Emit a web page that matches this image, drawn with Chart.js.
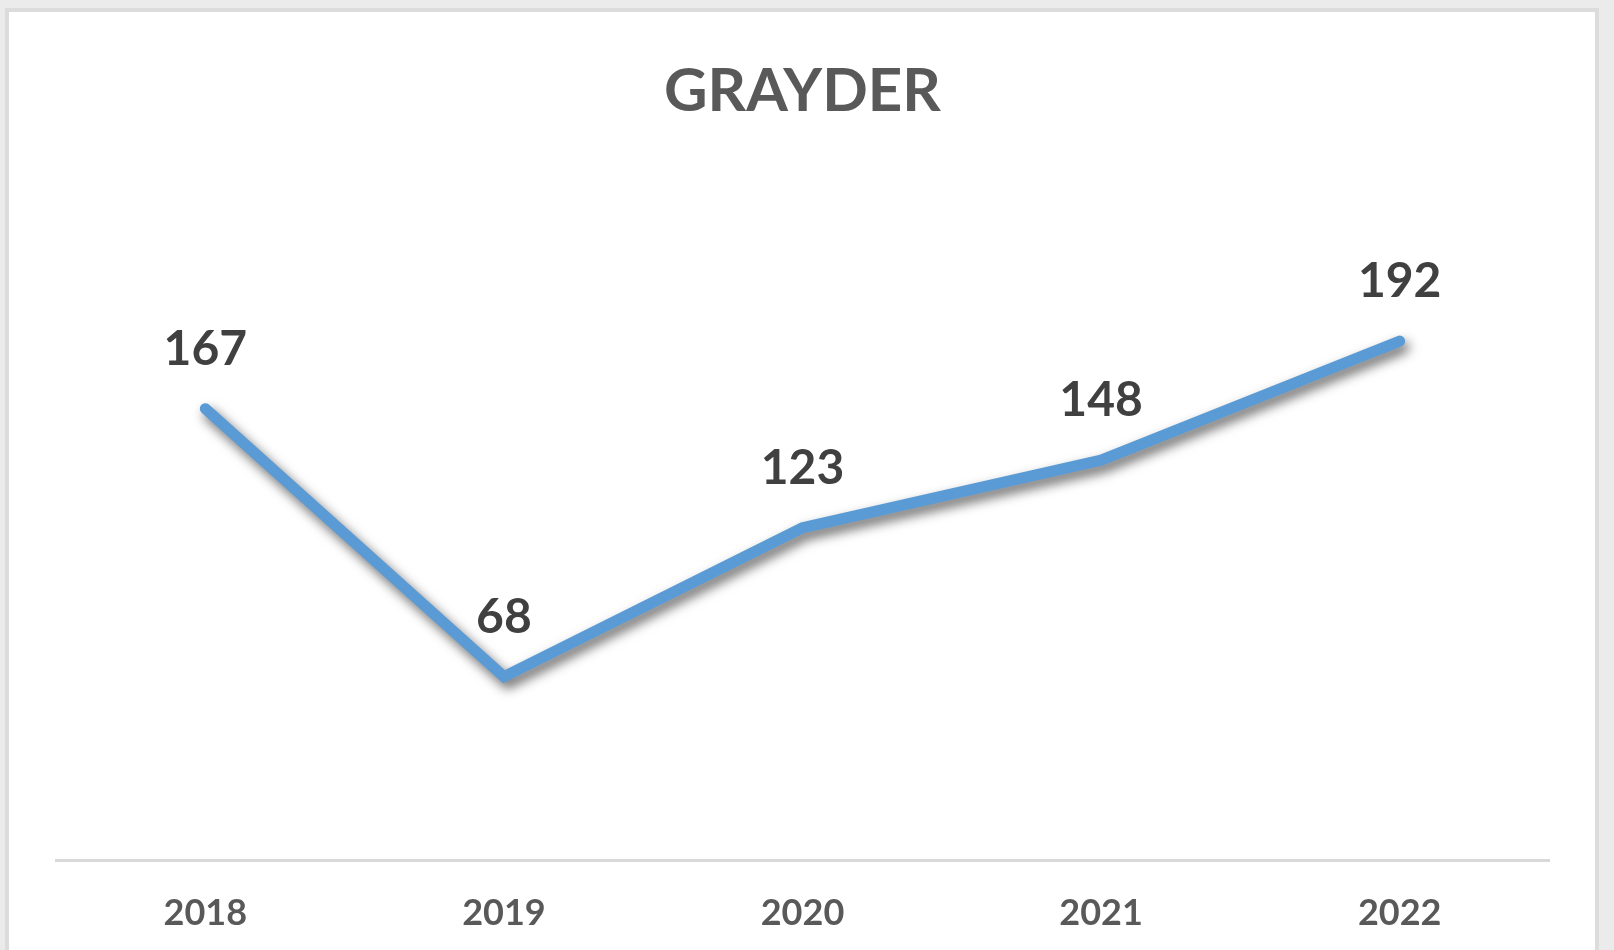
<!DOCTYPE html>
<html>
<head>
<meta charset="utf-8">
<script src="https://cdn.jsdelivr.net/npm/chart.js@4"></script>
<style>
  html, body { margin: 0; padding: 0; background: #ebebeb; overflow: hidden; width: 1614px; height: 950px; }
  #panel { position: absolute; left: 5px; top: 8px; width: 1586px; height: 973px; background: #fff; border: 4px solid #dcdcdc; }
  #chart { display: block; }
</style>
</head>
<body>
<div id="panel"><canvas id="chart" width="1586" height="973"></canvas></div>
<script>
const chartTitle = 'GRAYDER';
const years = ['2018', '2019', '2020', '2021', '2022'];
const counts = [167, 68, 123, 148, 192];
const yMin = 0;
const yMax = 250;

// soft drop shadow under the line, like the office chart
const lineShadow = {
    id: 'lineShadow',
    beforeDatasetDraw(chart) {
        const ctx = chart.ctx;
        ctx.save();
        ctx.shadowColor = 'rgba(0, 0, 0, 0.6)';
        ctx.shadowBlur = 12;
        ctx.shadowOffsetX = 4;
        ctx.shadowOffsetY = 6;
    },
    afterDatasetDraw(chart) { chart.ctx.restore(); }
};

// value labels above each point
const valueLabels = {
    id: 'valueLabels',
    afterDatasetsDraw(chart) {
        const ctx = chart.ctx;
        const meta = chart.getDatasetMeta(0);
        ctx.save();
        ctx.font = 'bold 48px Lato';
        ctx.fillStyle = '#404040';
        ctx.textAlign = 'center';
        ctx.textBaseline = 'alphabetic';
        meta.data.forEach((pt, i) => {
            ctx.fillText(String(counts[i]), pt.x, pt.y - 44);
        });
        ctx.restore();
    }
};

new Chart(document.getElementById('chart'), {
    type: 'line',
    data: {
        labels: years,
        datasets: [{
            data: counts,
            borderColor: '#5b9bd5',
            borderWidth: 11,
            borderCapStyle: 'round',
            borderJoinStyle: 'miter',
            tension: 0,
            pointRadius: 0,
            pointHoverRadius: 0,
            fill: false
        }]
    },
    options: {
        responsive: false,
        animation: false,
        events: [],
        layout: { padding: { left: 47, right: 46, top: 0, bottom: 19 } },
        plugins: {
            legend: { display: false },
            tooltip: { enabled: false },
            title: {
                display: true,
                text: chartTitle,
                color: '#595959',
                font: { family: 'Lato', weight: 'bold', size: 60, lineHeight: 1.2 },
                padding: { top: 44, bottom: 56 }
            }
        },
        scales: {
            x: {
                offset: true,
                grid: { display: false, drawTicks: false },
                border: { display: true, color: '#d9d9d9', width: 3 },
                ticks: {
                    color: '#595959',
                    font: { family: 'Lato', weight: 'bold', size: 36, lineHeight: 1.2 },
                    padding: 31,
                    maxRotation: 0
                }
            },
            y: {
                display: false,
                min: yMin,
                max: yMax
            }
        }
    },
    plugins: [lineShadow, valueLabels]
});
</script>
</body>
</html>
